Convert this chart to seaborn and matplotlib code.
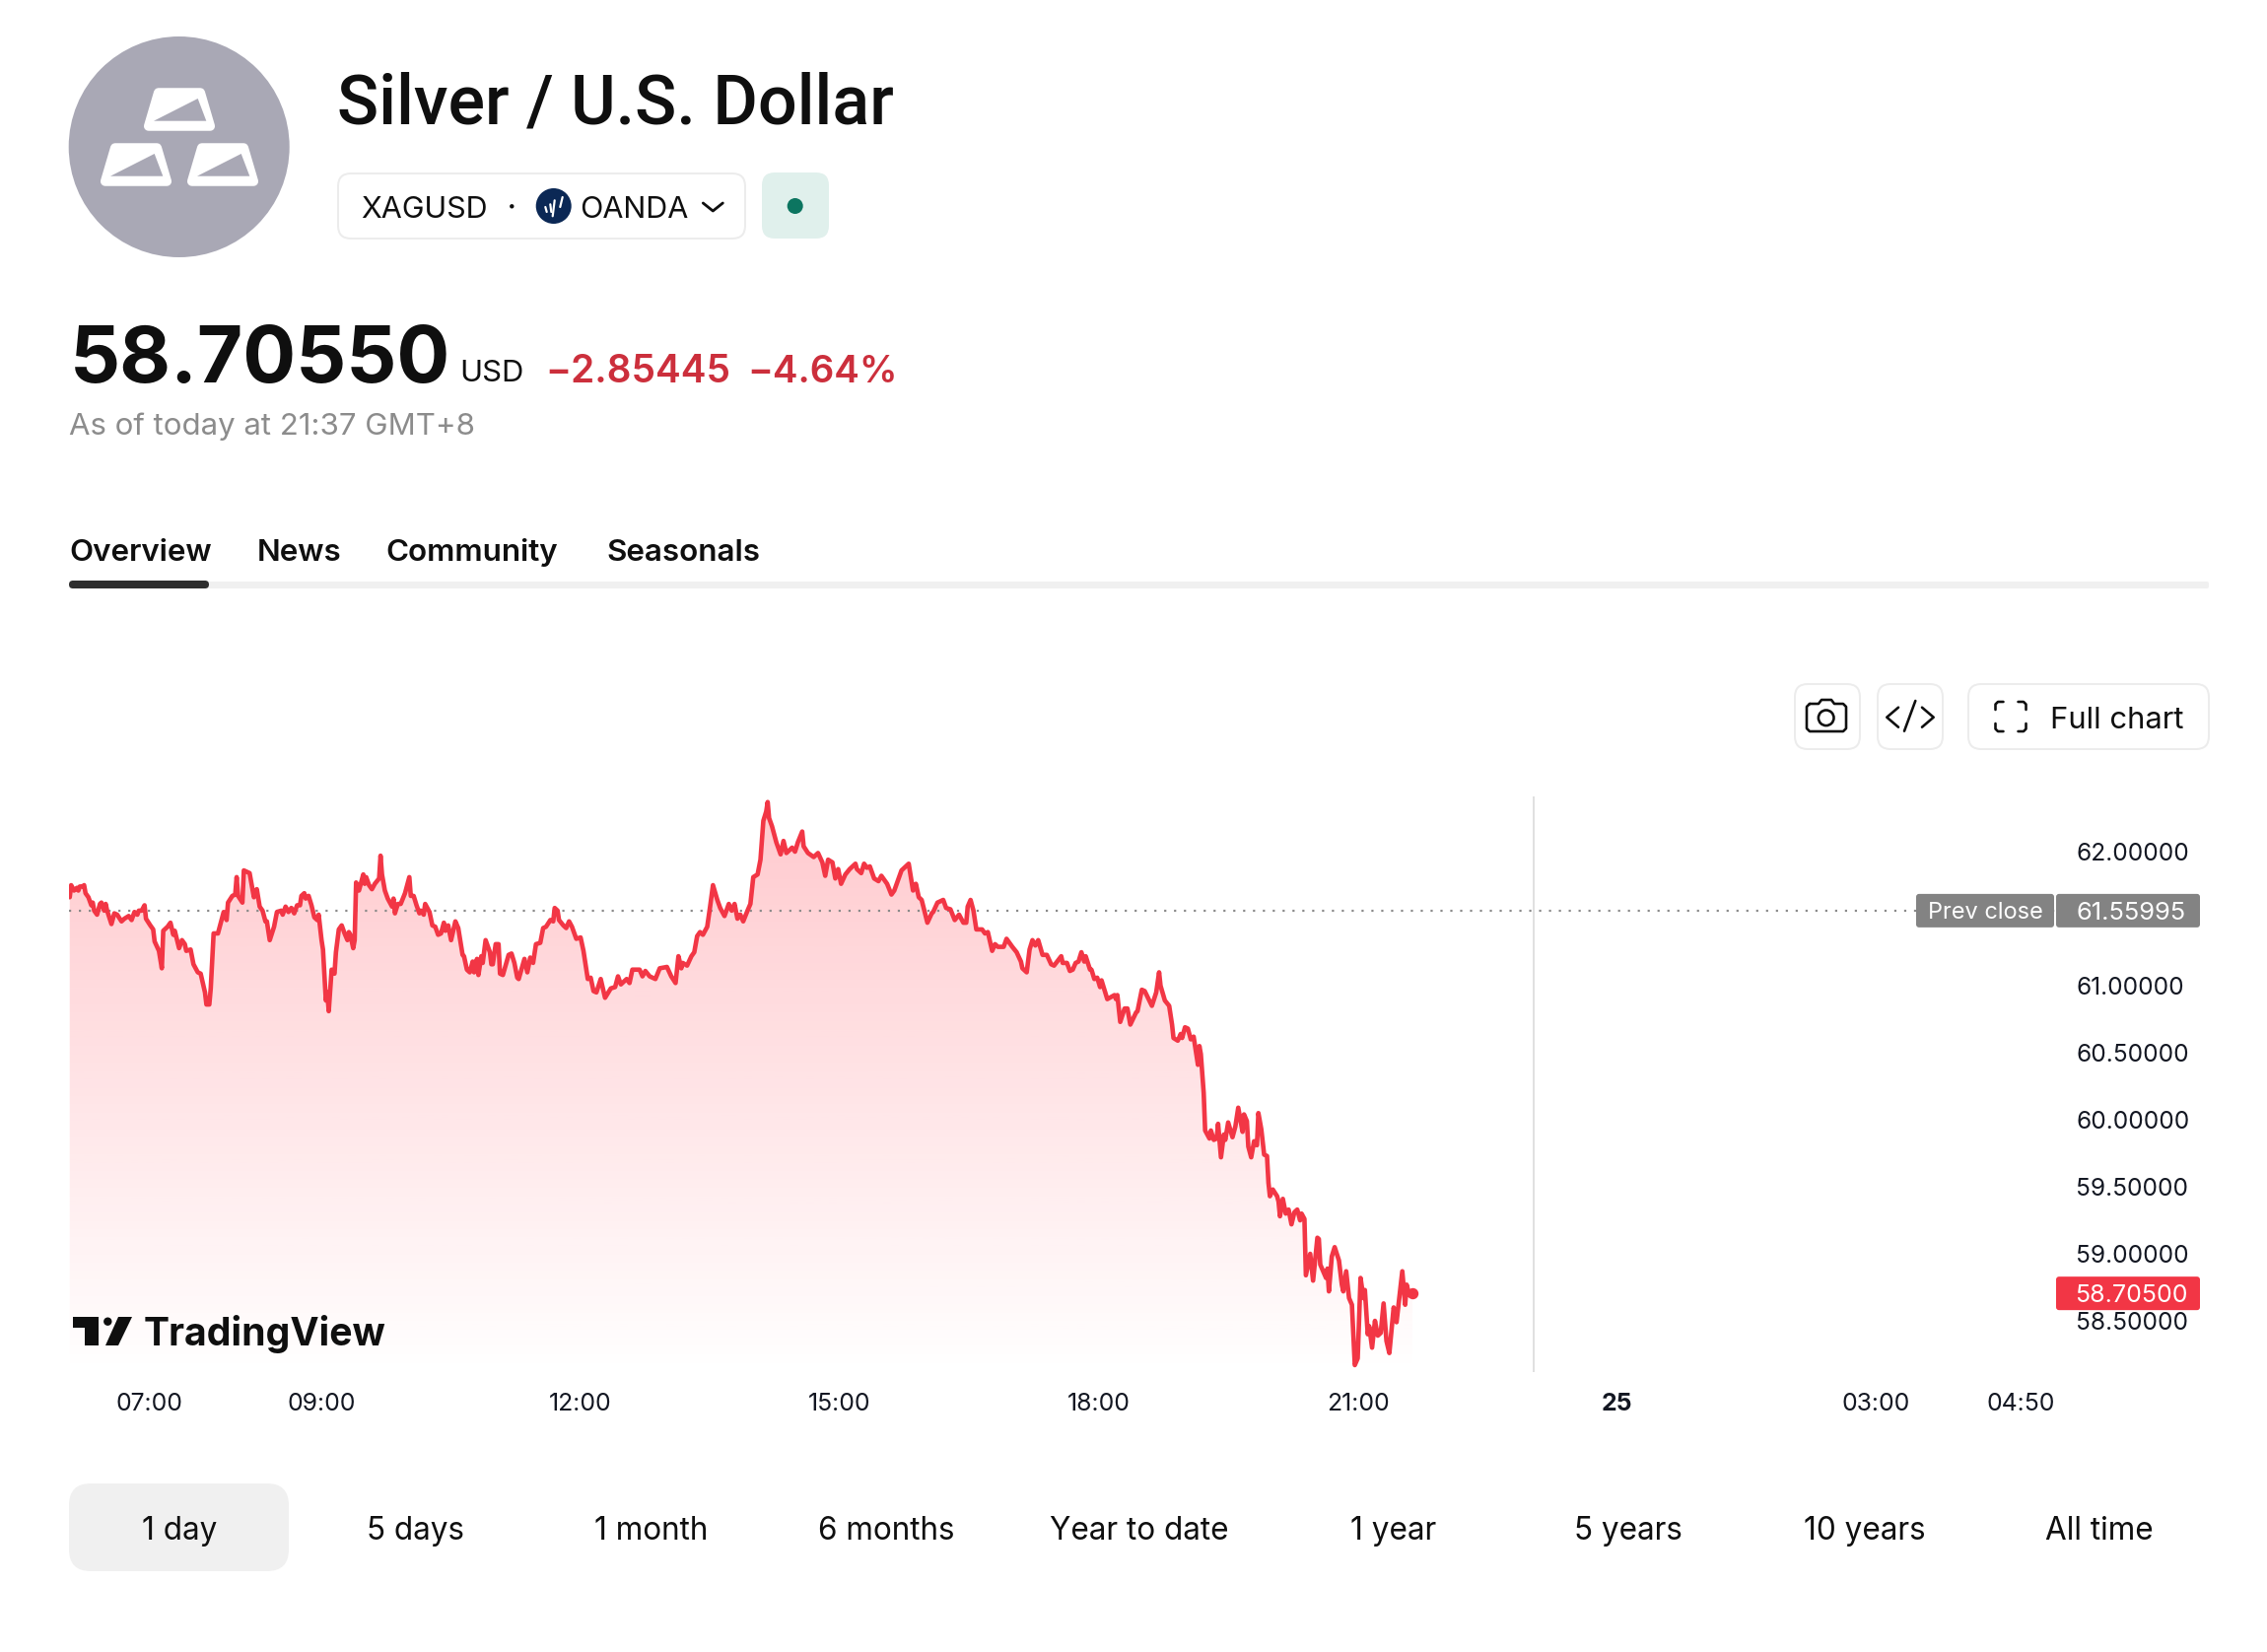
import numpy as np
import pandas as pd
import seaborn as sns
import matplotlib
matplotlib.use("Agg")
import matplotlib.pyplot as plt
from matplotlib.patches import FancyBboxPatch, Circle, Polygon

# Intraday XAGUSD quotes: minutes after 07:00 and price in USD
minutes = [
    -55,-54,-52,-50,-49,-48,-46,-45,-44,-42,-40,-39,-38,-36,-34,-33,-31,-30,-29,-26,-24,-22,-19,-17,-14,-12,-10,-8,-7,-5,-3,-2,
    1,3,4,7,9,10,13,15,17,18,21,23,25,26,29,31,34,36,39,40,42,43,45,48,50,52,54,55,58,60,61,62,65,66,70,73,75,77,79,81,82,84,87,89,
    92,93,95,97,99,101,103,105,106,108,109,111,113,115,117,118,120,121,123,124,125,127,129,130,132,134,136,138,139,140,142,143,144,146,149,150,151,153,155,157,
    160,161,162,164,166,169,170,171,173,175,178,181,182,184,186,188,189,191,192,195,197,199,201,203,205,206,208,210,213,215,218,219,221,223,225,226,228,229,231,232,234,237,238,
    239,241,243,244,246,250,252,254,256,257,261,263,265,267,269,272,274,276,279,281,282,284,285,288,290,292,294,296,297,300,302,305,307,309,311,314,317,321,324,326,328,332,334,336,
    341,343,345,348,352,355,360,363,366,368,370,371,374,377,379,381,383,385,388,390,392,395,397,400,403,405,407,409,411,413,416,418,420,423,425,427,429,430,431,433,436,439,441,443,447,449,451,454,455,458,
    462,465,468,470,472,475,477,479,481,484,487,491,492,495,497,499,501,504,507,509,513,516,518,523,528,531,533,535,537,541,544,545,548,552,554,557,560,563,566,
    568,569,571,573,575,579,581,583,586,588,590,592,594,596,600,603,606,607,610,612,614,616,618,621,624,627,629,634,635,638,640,642,644,646,648,650,651,654,655,657,659,661,662,666,
    671,672,673,675,678,680,682,686,687,690,692,697,700,702,703,706,709,711,712,715,717,718,720,722,724,726,729,730,731,733,734,737,738,740,742,743,745,747,748,750,753,755,757,760,761,763,764,766,768,770,771,773,775,777,778,
    779,781,784,785,786,788,790,792,794,796,798,800,801,803,804,807,809,812,813,814,818,819,820,822,824,827,829,830,832,834,836,838,840,842,844,845,847,848,850,852,854,856,858,860,862,865,867,871,873,874,876,878,
]
prices = [
    61.66,61.75,61.71,61.73,61.71,61.74,61.74,61.75,61.69,61.66,61.60,61.62,61.56,61.53,61.61,61.62,61.56,61.61,61.56,61.46,61.54,61.53,61.48,61.50,61.52,61.49,61.55,61.53,61.56,61.56,61.60,61.50,
    61.45,61.42,61.33,61.26,61.13,61.41,61.44,61.47,61.38,61.41,61.28,61.34,61.31,61.26,61.27,61.16,61.10,61.09,60.95,60.86,60.86,60.98,61.39,61.39,61.47,61.55,61.49,61.62,61.67,61.68,61.81,61.67,61.62,61.86,61.84,61.66,61.72,61.59,61.56,61.48,61.48,61.34,61.44,61.55,
    61.56,61.53,61.59,61.55,61.58,61.54,61.60,61.60,61.67,61.69,61.65,61.67,61.60,61.51,61.49,61.53,61.34,61.27,60.89,60.95,60.81,61.12,61.09,61.25,61.42,61.45,61.39,61.34,61.40,61.38,61.28,61.34,61.77,61.71,61.83,61.76,61.81,61.75,61.72,61.76,
    61.80,61.97,61.83,61.71,61.65,61.59,61.65,61.54,61.61,61.61,61.69,61.81,61.67,61.67,61.60,61.54,61.56,61.53,61.61,61.55,61.45,61.44,61.38,61.39,61.47,61.41,61.45,61.34,61.48,61.43,61.23,61.22,61.12,61.10,61.18,61.10,61.20,61.08,61.22,61.17,61.34,61.25,61.16,
    61.16,61.31,61.31,61.09,61.08,61.23,61.24,61.17,61.06,61.05,61.20,61.10,61.21,61.17,61.31,61.32,61.43,61.44,61.49,61.48,61.58,61.56,61.49,61.45,61.43,61.48,61.44,61.38,61.35,61.36,61.26,61.05,61.06,60.96,60.95,61.05,60.91,60.98,60.99,61.07,61.01,61.05,61.02,61.12,
    61.12,61.07,61.11,61.07,61.05,61.13,61.14,61.07,61.02,61.22,61.13,61.17,61.15,61.22,61.25,61.37,61.40,61.38,61.44,61.59,61.75,61.64,61.58,61.52,61.61,61.56,61.61,61.50,61.53,61.48,61.56,61.61,61.81,61.83,61.94,62.23,62.30,62.37,62.25,62.19,62.07,61.98,62.08,61.99,62.03,62.00,62.07,62.15,62.04,61.99,
    61.96,61.99,61.92,61.82,61.94,61.92,61.80,61.87,61.76,61.83,61.87,61.91,61.87,61.84,61.91,61.88,61.89,61.80,61.78,61.82,61.76,61.68,61.71,61.86,61.91,61.71,61.76,61.66,61.64,61.47,61.54,61.55,61.62,61.64,61.58,61.57,61.49,61.53,61.47,
    61.47,61.59,61.64,61.56,61.42,61.42,61.39,61.40,61.26,61.31,61.29,61.29,61.29,61.35,61.29,61.25,61.18,61.13,61.10,61.27,61.34,61.30,61.34,61.23,61.23,61.16,61.15,61.22,61.17,61.17,61.11,61.12,61.17,61.18,61.25,61.18,61.22,61.12,61.12,61.05,61.06,60.99,61.04,60.90,
    60.93,60.90,60.93,60.73,60.83,60.83,60.71,60.80,60.81,60.97,60.96,60.85,60.95,61.10,61.00,60.89,60.85,60.71,60.61,60.59,60.64,60.61,60.69,60.68,60.60,60.62,60.41,60.55,60.49,60.20,59.92,59.86,59.92,59.85,59.86,59.97,59.72,59.89,59.85,59.98,59.87,59.95,60.09,59.91,60.04,59.99,59.80,59.72,59.84,59.81,60.05,59.93,59.74,59.73,59.53,
    59.43,59.48,59.43,59.39,59.28,59.41,59.30,59.33,59.22,59.31,59.33,59.25,59.30,59.26,58.84,59.00,58.80,59.12,59.11,58.92,58.82,58.89,58.72,58.98,59.05,58.95,58.77,58.72,58.87,58.67,58.62,58.17,58.22,58.82,58.67,58.73,58.40,58.46,58.30,58.50,58.39,58.41,58.63,58.35,58.26,58.60,58.49,58.87,58.62,58.77,58.69,58.705,
]
y_ticks = [62.0, 61.0, 60.5, 60.0, 59.5, 59.0, 58.5]
x_tick_minutes = [0, 120, 300, 480, 660, 840, 1020, 1200, 1301]
x_tick_labels = ["07:00", "09:00", "12:00", "15:00", "18:00", "21:00", "25", "03:00", "04:50"]
session_break = 962.3
prev_close = 61.55995
last_price = 58.705
tabs = ["Overview", "News", "Community", "Seasonals"]
ranges = ["1 day", "5 days", "1 month", "6 months", "Year to date", "1 year", "5 years", "10 years", "All time"]

W, H = 2300, 1676
RED = "#f23645"
INK = "#0f0f0f"
TICK = "#131722"
FONT = ["Inter", "DejaVu Sans"]

sns.set_theme(style="white")
plt.rcParams["font.family"] = FONT


def pt(px):
    return px * 0.72


fig = plt.figure(figsize=(W / 100, H / 100), dpi=100, facecolor="white")

# Price chart
L, R, T, B = 70, 2086, 808, 1392
ax = fig.add_axes([L / W, 1 - B / H, (R - L) / W, (B - T) / H])
ax.set_facecolor("none")
xlim = (-55.5, 1325.3)
ylim = (58.118, 62.412)

df = pd.DataFrame({"minutes": minutes, "price": prices})
fill = ax.fill_between(df["minutes"], df["price"], ylim[0], facecolor="none", edgecolor="none")
grad = np.zeros((256, 1, 4))
grad[..., 0], grad[..., 1], grad[..., 2] = 1.0, 0.2, 0.27
grad[..., 3] = np.linspace(0.27, 0.0, 256)[:, None]
img = ax.imshow(grad, extent=[xlim[0], xlim[1], ylim[0], ylim[1]], aspect="auto", origin="upper", zorder=1)
img.set_clip_path(fill.get_paths()[0], transform=ax.transData)

ax.axhline(prev_close, color="#8a8a8a", lw=pt(2.2), ls=(0, (1, 3.55)), zorder=2)
ax.axvline(session_break, color="#d9d9d9", lw=pt(1.6), zorder=2)
sns.lineplot(data=df, x="minutes", y="price", estimator=None, sort=False, color=RED,
             lw=pt(4.6), solid_joinstyle="round", ax=ax, zorder=3)
ax.plot(minutes[-1], prices[-1], "o", color=RED, ms=pt(10), zorder=4)

ax.set_xlim(*xlim)
ax.set_ylim(*ylim)
ax.set_xlabel("")
ax.set_ylabel("")
sns.despine(ax=ax, left=True, bottom=True)
ax.yaxis.tick_right()
ax.set_yticks(y_ticks, [f"{v:.5f}" for v in y_ticks])
ax.set_xticks(x_tick_minutes, x_tick_labels)
ax.tick_params(axis="y", length=0, pad=pt(20), labelsize=pt(24.5), labelcolor=TICK)
ax.tick_params(axis="x", length=0, pad=pt(21), labelsize=pt(24.8), labelcolor=TICK)
for lab in ax.get_xticklabels():
    if lab.get_text() == "25":
        lab.set_fontweight("bold")

# Page furniture drawn in a pixel-scaled layer above the chart
ui = fig.add_axes([0, 0, 1, 1])
ui.set_xlim(0, W)
ui.set_ylim(H, 0)
ui.axis("off")
ui.patch.set_alpha(0)


def box(x0, y0, x1, y1, r, fc="white", ec="none", lw=0, z=5):
    ui.add_patch(FancyBboxPatch((x0, y0), x1 - x0, y1 - y0, boxstyle=f"round,pad=0,rounding_size={r}",
                                fc=fc, ec=ec, lw=lw, zorder=z))


def text(x, y, s, px, color=INK, weight="normal", ha="left", va="baseline", z=7, family=None):
    return ui.text(x, y, s, fontsize=pt(px), color=color, fontweight=weight, ha=ha, va=va,
                   family=family or FONT, zorder=z)


def stroke(pts, color=INK, px=2.6, z=7):
    xs, ys = zip(*pts)
    ui.plot(xs, ys, color=color, lw=pt(px), solid_capstyle="round", solid_joinstyle="round", zorder=z)


def price_to_px(p):
    return ui.transData.inverted().transform(ax.transData.transform((0, p)))[1]


# Symbol badge with three ingots
ui.add_patch(Circle((181.7, 149), 112, fc="#a9a8b5", ec="none", zorder=5))
for dx, dy in [(0, 0), (-44, 56), (44, 56)]:
    ui.add_patch(Polygon([(160.7 + dx, 94 + dy), (203.3 + dx, 94 + dy), (213.3 + dx, 128 + dy), (150.7 + dx, 128 + dy)],
                         fc="white", ec="white", lw=pt(9.5), joinstyle="round", zorder=6))
    ui.add_patch(Polygon([(156 + dx, 122.7 + dy), (200.7 + dx, 100 + dy), (209.3 + dx, 122.7 + dy)],
                         fc="#a9a8b5", ec="none", zorder=7))

# Header
text(342, 126, "Silver / U.S. Dollar", 70, weight="medium", family=["Roboto", "DejaVu Sans"])
box(343, 176, 756, 242, 13, ec="#ececec", lw=pt(2))
box(773, 175, 841, 242, 13, fc="#e0f0ec")
ui.add_patch(Circle((806.7, 209), 8, fc="#0c7560", ec="none", zorder=7))
text(366, 221, "XAGUSD", 30.5, weight="normal")
ui.add_patch(Circle((519.3, 209.3), 2.2, fc=INK, ec="none", zorder=7))
ui.add_patch(Circle((561.7, 209), 18, fc="#0b2855", ec="none", zorder=6))
for seg in [[(553.3, 210), (554.7, 215)], [(558.3, 207.3), (559.3, 215)],
            [(562.7, 203.3), (560.7, 219.3)], [(570.7, 200), (568.3, 210)]]:
    stroke(seg, color="white", px=2.2)
text(588, 221, "OANDA", 30.5)
stroke([(713.3, 206), (723.3, 214), (733.3, 206)], px=2.8)

text(71, 388, "58.70550", 80, weight="bold")
text(466, 387, "USD", 31)
text(553, 388, "\u22122.85445", 38.8, color="#cc2f3c", weight="semibold")
text(758, 388, "\u22124.64%", 38.5, color="#cc2f3c", weight="semibold")
text(70, 441, "As of today at 21:37 GMT+8", 31.2, color="#8c8c8c")

# Tabs
for label, x in zip(tabs, [70, 261, 391.5, 615.5]):
    text(x, 569, label, 31.3, weight="semibold")
box(70, 590, 2241, 597, 2, fc="#f0f0f0")
box(70, 589, 212, 597, 4, fc="#2e2e2e", z=6)

# Chart toolbar
box(1821, 694, 1887, 760, 13, ec="#ececec", lw=pt(2))
box(1905, 694, 1971, 760, 13, ec="#ececec", lw=pt(2))
box(1997, 694, 2241, 760, 13, ec="#ececec", lw=pt(2))
stroke([(1836, 714), (1845, 714), (1848, 710), (1858, 710), (1861, 714), (1870, 714), (1873, 717), (1873, 739),
        (1870, 742), (1836, 742), (1833, 739), (1833, 717), (1836, 714)])
ui.add_patch(Circle((1852.7, 728.3), 7.8, fc="none", ec=INK, lw=pt(2.6), zorder=7))
stroke([(1926, 717.7), (1914.3, 727.7), (1926, 737.7)])
stroke([(1943.3, 711), (1932, 741.7)])
stroke([(1950, 717.7), (1961.7, 727.7), (1950, 737.7)])
for sx, sy, x0, y0 in [(1, 1, 2024.5, 712), (-1, 1, 2055.5, 712), (1, -1, 2024.5, 742), (-1, -1, 2055.5, 742)]:
    stroke([(x0 + 8 * sx, y0), (x0 + 2.5 * sx, y0), (x0, y0 + 2.5 * sy), (x0, y0 + 8 * sy)])
text(2080, 739, "Full chart", 31)

# Price scale tags
yp = price_to_px(prev_close)
box(1944, yp - 17, 2084, yp + 17, 3, fc="#838383")
box(2086, yp - 17, 2232, yp + 17, 3, fc="#838383")
text(2014, yp, "Prev close", 23.5, color="white", ha="center", va="center_baseline")
text(2162.5, yp, f"{prev_close:.5f}", 25.5, color="white", ha="center", va="center_baseline")
yl = price_to_px(last_price)
box(2086, yl - 17, 2232, yl + 17, 3, fc=RED)
text(2162.5, yl, f"{last_price:.5f}", 25, color="white", ha="center", va="center_baseline")

# TradingView mark
ui.add_patch(Polygon([(74, 1336), (100, 1336), (100, 1365), (86, 1365), (86, 1347), (74, 1347)], fc=INK, ec="none", zorder=7))
ui.add_patch(Circle((109.3, 1340.7), 4.2, fc=INK, ec="none", zorder=7))
ui.add_patch(Polygon([(120, 1336), (134, 1336), (120, 1365), (107, 1365)], fc=INK, ec="none", zorder=7))
text(146, 1365, "TradingView", 39.2, weight="bold")

# Range selector
box(70, 1505, 293, 1594, 22, fc="#f0f0f0")
for label, x in zip(ranges, [182, 421, 661, 899, 1156, 1414, 1652, 1892, 2130]):
    text(x, 1550, label, 31.5, ha="center", va="center_baseline")

fig.savefig("out.png", dpi=100, facecolor="white")
